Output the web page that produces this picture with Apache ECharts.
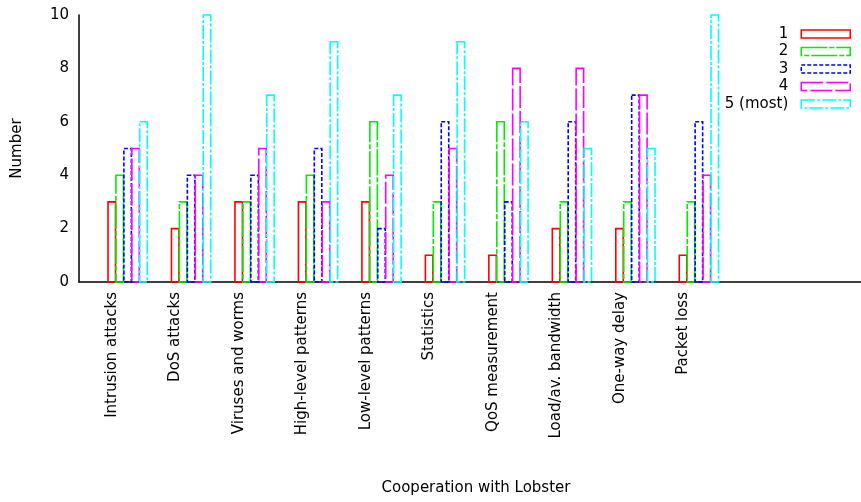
<!DOCTYPE html>
<html>
<head>
<meta charset="utf-8">
<script src="https://cdn.jsdelivr.net/npm/echarts@6/dist/echarts.min.js"></script>
<style>
  html, body { margin: 0; padding: 0; background: #fff; }
  #chart { width: 861px; height: 502px; }
</style>
</head>
<body>
<div id="chart"></div>
<script>
// Survey answers per feature: how many respondents gave each rating (1..5)
const categories = [
  'Intrusion attacks', 'DoS attacks', 'Viruses and worms', 'High-level patterns',
  'Low-level patterns', 'Statistics', 'QoS measurement', 'Load/av. bandwidth',
  'One-way delay', 'Packet loss'
];
const seriesNames = ['1', '2', '3', '4', '5 (most)'];
const rating1 = [3, 2, 3, 3, 3, 1, 1, 2, 2, 1];
const rating2 = [4, 3, 3, 4, 6, 3, 6, 3, 3, 3];
const rating3 = [5, 4, 4, 5, 2, 6, 3, 6, 7, 6];
const rating4 = [5, 4, 5, 3, 4, 5, 8, 8, 7, 4];
const rating5 = [6, 10, 7, 9, 7, 9, 6, 5, 5, 10];
const yTicks = [0, 2, 4, 6, 8, 10];

const ratings = [rating1, rating2, rating3, rating4, rating5];
const colors = ['#ff0000', '#00ee00', '#0000ff', '#ff00ff', '#00ffff'];
const dashes = [null, [26, 2, 5, 2], [4, 2], [22, 3], [14, 2, 3, 2]];

const FONT = 'DejaVu Sans';
const SLOT = 0.125;      // horizontal step between the five boxes of a group
const BOX = 0.118;       // box width in axis units
const START = -0.063;    // first box starts just left of the category tick

function makeSeries(s) {
  return {
    name: seriesNames[s],
    type: 'custom',
    itemStyle: { color: colors[s] },
    data: ratings[s].map((v, i) => [i + 1, v]),
    renderItem: function (params, api) {
      const x = api.value(0) + START + s * SLOT;
      const top = api.coord([x, api.value(1)]);
      const bot = api.coord([x + BOX, 0]);
      return {
        type: 'rect',
        shape: { x: top[0], y: top[1], width: bot[0] - top[0], height: bot[1] - top[1] },
        style: {
          fill: 'none',
          stroke: colors[s],
          lineWidth: 1.6,
          lineDash: dashes[s]
        }
      };
    }
  };
}

const chart = echarts.init(document.getElementById('chart'), null, { renderer: 'canvas' });
chart.setOption({
  animation: false,
  backgroundColor: '#ffffff',
  grid: { left: 79, right: 0, top: 15, bottom: 220, containLabel: false },
  legend: {
    orient: 'vertical',
    right: 5,
    top: 21,
    align: 'right',
    icon: 'rect',
    itemWidth: 49,
    itemHeight: 8,
    itemGap: 1.5,
    textStyle: { fontFamily: FONT, fontSize: 15, color: '#000', lineHeight: 16, padding: [0, 8, 0, 0] },
    data: seriesNames.map((n, s) => ({
      name: n,
      itemStyle: {
        color: 'transparent',
        borderColor: colors[s],
        borderWidth: 1.5,
        borderType: dashes[s] || 'solid'
      }
    }))
  },
  xAxis: {
    type: 'value',
    min: 0.48,
    max: 12.8,
    name: 'Cooperation with Lobster',
    nameLocation: 'middle',
    nameGap: 199,
    nameTextStyle: { fontFamily: FONT, fontSize: 15, color: '#000', padding: [0, 0, 0, 12] },
    axisLine: { show: true, onZero: false, lineStyle: { color: '#000', width: 1.5 } },
    axisTick: { show: false },
    splitLine: { show: false },
    axisLabel: {
      customValues: categories.map((c, i) => i + 1),
      formatter: v => categories[Math.round(v) - 1] || '',
      rotate: 90,
      margin: 10,
      fontFamily: FONT,
      fontSize: 15,
      color: '#000'
    }
  },
  yAxis: {
    type: 'value',
    min: 0,
    max: 10,
    interval: 2,
    name: 'Number',
    nameLocation: 'middle',
    nameRotate: 90,
    nameGap: 54,
    nameTextStyle: { fontFamily: FONT, fontSize: 15, color: '#000' },
    axisLine: { show: true, lineStyle: { color: '#000', width: 1.5 } },
    axisTick: { show: false },
    splitLine: { show: false },
    axisLabel: {
      customValues: yTicks,
      margin: 10,
      fontFamily: FONT,
      fontSize: 15,
      color: '#000'
    }
  },
  series: ratings.map((r, s) => makeSeries(s))
});
</script>
</body>
</html>
